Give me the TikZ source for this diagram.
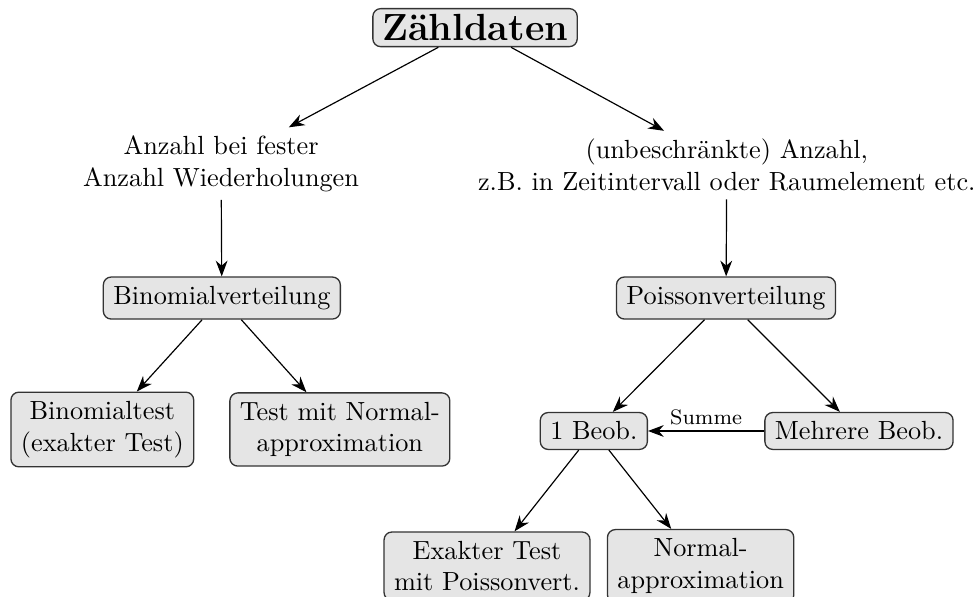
\documentclass[tikz,border=0pt]{standalone}
\usepackage{fontspec}
\usepackage{tikz}
\usetikzlibrary{arrows.meta,positioning}
\tikzset{
  zbox/.style={
    rectangle, rounded corners=3pt, draw=black!80, fill=black!10,
    line width=0.5pt, align=center, inner xsep=3.8pt, inner ysep=3.5pt
  },
  ztitle/.style={zbox,font=\Large\bfseries,inner xsep=3.5pt,inner ysep=2.2pt},
  ztext/.style={align=center,inner sep=3pt},
  zedge/.style={-{Stealth[length=6pt,width=4.5pt]},line width=0.45pt},
  zlabel/.style={font=\footnotesize,above,inner sep=2pt}
}

\begin{document}
\begin{tikzpicture}[x=1cm,y=1cm]
  \useasboundingbox (0,0) rectangle (13.12,7.99);
  \node[ztitle] (zd) at (6.36,7.62) {Zähldaten};
  \node[ztext] (fix) at (2.96,5.80) {Anzahl bei fester\\Anzahl Wiederholungen};
  \node[ztext] (free) at (9.73,5.78) {(unbeschränkte) Anzahl,\\z.B. in Zeitintervall oder Raumelement etc.};
  \node[zbox] (bin) at (2.97,4.00) {Binomialverteilung};
  \node[zbox] (poi) at (9.72,4.00) {Poissonverteilung};
  \node[zbox] (bintest) at (1.37,2.24) {Binomialtest\\(exakter Test)};
  \node[zbox] (binnorm) at (4.55,2.24) {Test mit Normal-\\approximation};
  \node[zbox] (one) at (7.95,2.22) {1 Beob.};
  \node[zbox] (many) at (11.50,2.22) {Mehrere Beob.};
  \node[zbox] (exact) at (6.52,0.41) {Exakter Test\\mit Poissonvert.};
  \node[zbox] (poinorm) at (9.38,0.41) {Normal-\\approximation};
  \draw[zedge] (zd) -- (fix);
  \draw[zedge] (zd) -- (free);
  \draw[zedge] (fix) -- (bin);
  \draw[zedge] (free) -- (poi);
  \draw[zedge] (bin) -- (bintest);
  \draw[zedge] (bin) -- (binnorm);
  \draw[zedge] (poi) -- (one);
  \draw[zedge] (poi) -- (many);
  \draw[zedge] (many) -- node[zlabel] {Summe} (one);
  \draw[zedge] (one) -- (exact);
  \draw[zedge] (one) -- (poinorm);
\end{tikzpicture}
\end{document}
